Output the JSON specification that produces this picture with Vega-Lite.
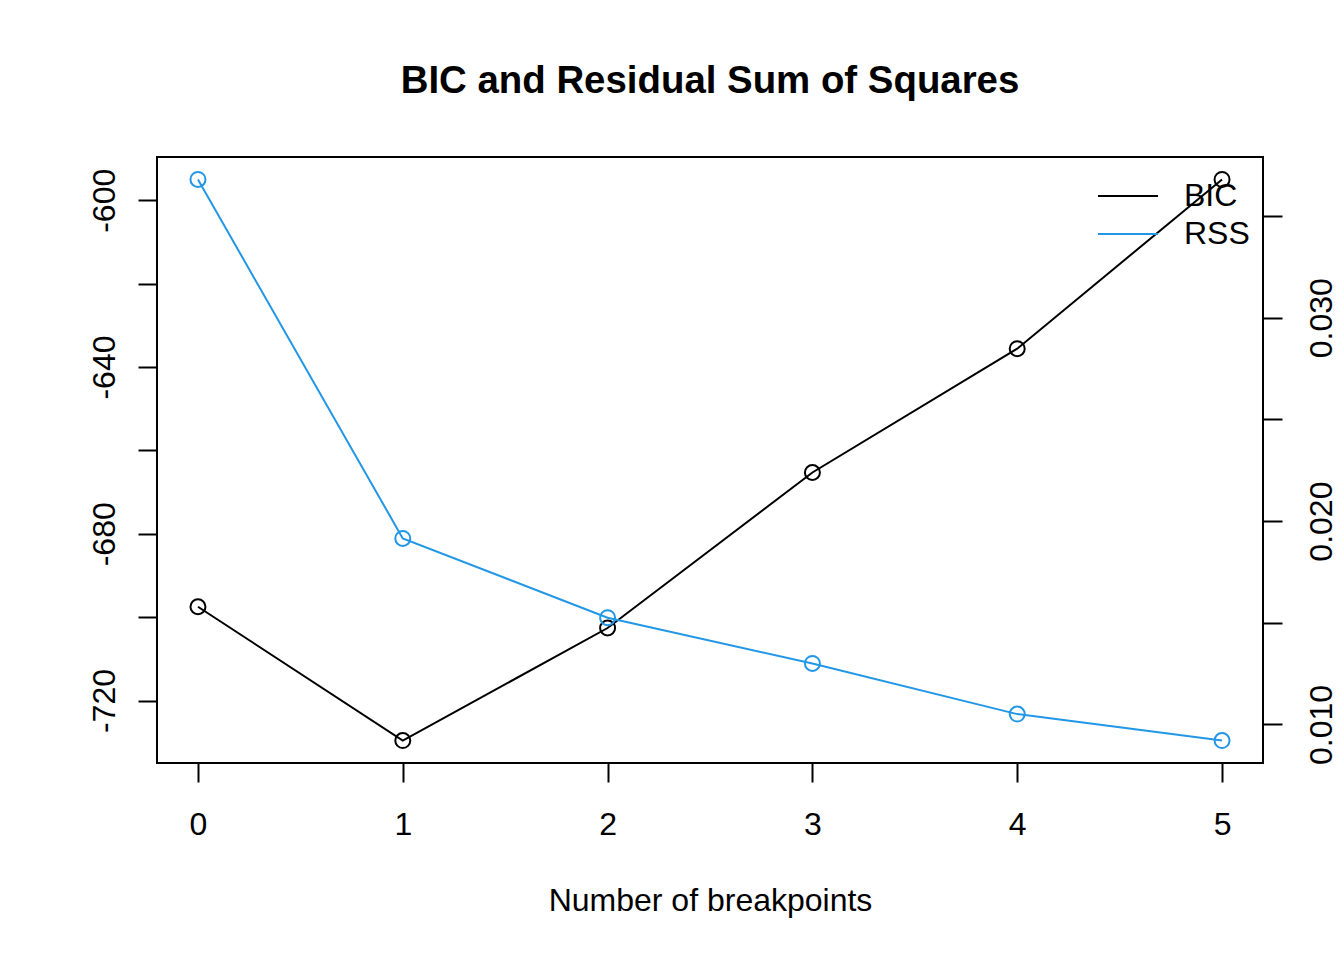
{
  "$schema": "https://vega.github.io/schema/vega-lite/v6.json",
  "width": 1106,
  "height": 606,
  "autosize": "none",
  "padding": {"left": 157, "top": 157, "right": 81, "bottom": 197},
  "background": "white",
  "title": {
    "text": "BIC and Residual Sum of Squares",
    "font": "Liberation Sans",
    "fontSize": 38.4,
    "fontWeight": "bold",
    "color": "black",
    "anchor": "middle",
    "frame": "group",
    "baseline": "alphabetic",
    "offset": 26
  },
  "data": {
    "values": [
      {"breakpoints": 0, "series": "BIC", "value": -697.5},
      {"breakpoints": 1, "series": "BIC", "value": -729.6},
      {"breakpoints": 2, "series": "BIC", "value": -702.6},
      {"breakpoints": 3, "series": "BIC", "value": -665.3},
      {"breakpoints": 4, "series": "BIC", "value": -635.6},
      {"breakpoints": 5, "series": "BIC", "value": -595.0},
      {"breakpoints": 0, "series": "RSS", "value": 0.0368},
      {"breakpoints": 1, "series": "RSS", "value": 0.01915},
      {"breakpoints": 2, "series": "RSS", "value": 0.01525},
      {"breakpoints": 3, "series": "RSS", "value": 0.0130},
      {"breakpoints": 4, "series": "RSS", "value": 0.01051},
      {"breakpoints": 5, "series": "RSS", "value": 0.00921}
    ]
  },
  "encoding": {
    "x": {
      "field": "breakpoints",
      "type": "quantitative",
      "scale": {"domain": [-0.2, 5.2], "nice": false, "zero": false},
      "axis": {
        "title": "Number of breakpoints",
        "values": [0, 1, 2, 3, 4, 5],
        "grid": false,
        "domain": false,
        "tickSize": 19,
        "tickWidth": 2,
        "tickColor": "black",
        "labelPadding": 27,
        "labelFont": "Liberation Sans",
        "labelFontSize": 32,
        "labelColor": "black",
        "labelAngle": 0,
        "titleFont": "Liberation Sans",
        "titleFontSize": 32,
        "titleFontWeight": "normal",
        "titleColor": "black",
        "titlePadding": 45
      }
    },
    "color": {
      "field": "series",
      "type": "nominal",
      "scale": {"domain": ["BIC", "RSS"], "range": ["black", "#2297E6"]},
      "legend": {
        "title": null,
        "orient": "none",
        "legendX": 940,
        "legendY": 20,
        "symbolType": "stroke",
        "symbolSize": 3600,
        "symbolStrokeWidth": 2,
        "labelFont": "Liberation Sans",
        "labelFontSize": 32,
        "labelColor": "black",
        "labelOffset": 25,
        "clipHeight": 38,
        "rowPadding": 0
      }
    }
  },
  "layer": [
    {
      "transform": [{"filter": "datum.series == 'BIC'"}],
      "encoding": {
        "y": {
          "field": "value",
          "type": "quantitative",
          "scale": {"domain": [-734.98, -589.62], "nice": false, "zero": false},
          "axis": {
            "orient": "left",
            "title": null,
            "values": [-720, -700, -680, -660, -640, -620, -600],
            "labelExpr": "datum.value % 40 == 0 ? toString(datum.value) : ''",
            "grid": false,
            "domain": false,
            "tickSize": 19,
            "tickWidth": 2,
            "tickColor": "black",
            "labelAngle": 270,
            "labelAlign": "center",
            "labelBaseline": "bottom",
            "labelPadding": 17,
            "labelOverlap": false,
            "labelBound": false,
            "labelFont": "Liberation Sans",
            "labelFontSize": 32,
            "labelColor": "black"
          }
        }
      },
      "layer": [
        {"mark": {"type": "line", "strokeWidth": 2}},
        {"mark": {"type": "point", "shape": "circle", "filled": false, "size": 225, "strokeWidth": 2, "opacity": 1}}
      ]
    },
    {
      "transform": [{"filter": "datum.series == 'RSS'"}],
      "encoding": {
        "y": {
          "field": "value",
          "type": "quantitative",
          "scale": {"domain": [0.008106, 0.037904], "nice": false, "zero": false},
          "axis": {
            "orient": "right",
            "title": null,
            "values": [0.010, 0.015, 0.020, 0.025, 0.030, 0.035],
            "labelExpr": "round(datum.value * 200) % 2 == 0 ? format(datum.value, '.3f') : ''",
            "grid": false,
            "domain": false,
            "tickSize": 19,
            "tickWidth": 2,
            "tickColor": "black",
            "labelAngle": 270,
            "labelAlign": "center",
            "labelBaseline": "top",
            "labelPadding": 24,
            "labelOverlap": false,
            "labelBound": false,
            "labelFont": "Liberation Sans",
            "labelFontSize": 32,
            "labelColor": "black"
          }
        }
      },
      "layer": [
        {"mark": {"type": "line", "strokeWidth": 2}},
        {"mark": {"type": "point", "shape": "circle", "filled": false, "size": 225, "strokeWidth": 2, "opacity": 1}}
      ]
    }
  ],
  "resolve": {"scale": {"y": "independent"}},
  "config": {
    "view": {"stroke": "black", "strokeWidth": 2},
    "font": "Liberation Sans"
  }
}
